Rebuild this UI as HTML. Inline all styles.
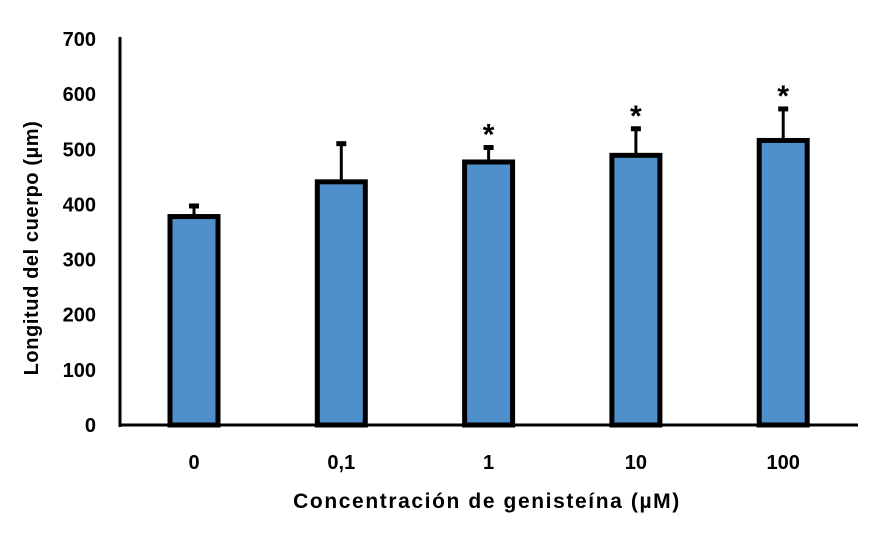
<!DOCTYPE html>
<html><head><meta charset="utf-8"><style>
html,body{margin:0;padding:0;background:#fff;}
svg{display:block;font-family:"Liberation Sans",sans-serif;}
</style></head><body>
<svg id="chart" width="874" height="544" viewBox="0 0 874 544"></svg>
<script>
const categories = ["0","0,1","1","10","100"];
const values = [378, 441, 477, 489, 516];
const errors = [21, 71, 28, 50, 59];
const significant = [false, false, true, true, true];
const yTicks = [0,100,200,300,400,500,600,700];

const NS = "http://www.w3.org/2000/svg";
const svg = document.getElementById("chart");
const y0 = 425, yTop = 39, yMax = 700;
const xLeft = 120, xRight = 858;
const centers0 = 194, step = 147.3;
const y = v => y0 - (v / yMax) * (y0 - yTop);
const x = i => centers0 + i * step;
function mk(tag, attrs){const e=document.createElementNS(NS,tag);for(const k in attrs)e.setAttribute(k,attrs[k]);svg.appendChild(e);return e;}

yTicks.forEach(t=>{
  const e=mk("text",{x:96,y:y(t)+7,"text-anchor":"end","font-size":20,"font-weight":"bold",fill:"#000"});
  e.textContent=t;
  
  
});

categories.forEach((c,i)=>{
  const bw=48, cx=x(i);
  const eb=mk("line",{x1:cx,x2:cx,y1:y(values[i]),y2:y(values[i]+errors[i]),stroke:"#000","stroke-width":3});
  
  
  const cap=mk("line",{x1:cx-5,x2:cx+5,y1:y(values[i]+errors[i])+1,y2:y(values[i]+errors[i])+1,stroke:"#000","stroke-width":5});
  
  
  const r=mk("rect",{x:cx-bw/2,y:y(values[i]),width:bw,height:y0-y(values[i]),fill:"#4f8fcc",stroke:"#000","stroke-width":5});
  
  
  const l=mk("text",{x:cx,y:469,"text-anchor":"middle","font-size":20,"font-weight":"bold",fill:"#000"});
  l.textContent=c;
  
  
  if(significant[i]){
    const s=mk("text",{x:cx,y:y(values[i]+errors[i])-2,"text-anchor":"middle","font-size":30,"font-weight":"bold",fill:"#000"});
    s.textContent="*";
    
    
  }
});

const ya=mk("line",{x1:xLeft,x2:xLeft,y1:yTop-2,y2:y0+2,stroke:"#000","stroke-width":3});


const xa=mk("line",{x1:xLeft-1,x2:xRight,y1:y0,y2:y0,stroke:"#000","stroke-width":3});



const yt=mk("text",{x:0,y:0,transform:"translate(38,248) rotate(-90)","text-anchor":"middle","font-size":20,"font-weight":"bold","letter-spacing":0.6,fill:"#000"});
yt.textContent="Longitud del cuerpo (µm)";


const xt=mk("text",{x:487,y:508,"text-anchor":"middle","font-size":21,"font-weight":"bold","letter-spacing":1.6,fill:"#000"});
xt.textContent="Concentración de genisteína (µM)";


</script>
</body></html>
